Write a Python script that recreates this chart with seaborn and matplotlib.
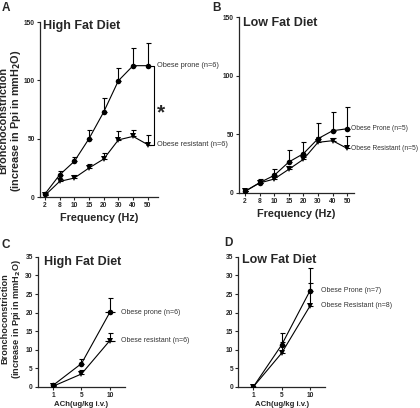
import numpy as np
import matplotlib
matplotlib.use("Agg")
import matplotlib.pyplot as plt
import seaborn as sns

sns.set_style("ticks")
plt.rcParams['font.family'] = ['Liberation Sans', 'DejaVu Sans']
plt.rcParams['axes.linewidth'] = 0.9
plt.rcParams['xtick.major.width'] = 0.8
plt.rcParams['ytick.major.width'] = 0.8
plt.rcParams['xtick.major.size'] = 2.2
plt.rcParams['ytick.major.size'] = 2.2

# stimulation frequency (Hz), vagal stimulation panels
freqs = [2, 8, 10, 15, 20, 30, 40, 50]
# ACh dose (ug/kg i.v.)
doses = [1, 5, 10]

# High fat diet, frequency response
hf_prone = [2.6, 19, 30.6, 50, 72.9, 99.7, 112.6, 112.6]
hf_prone_sem = [1, 3.6, 4, 7.7, 12, 11.3, 15.1, 19.1]
hf_resist = [1.4, 13.4, 16.3, 24.9, 32.6, 49, 52, 44.9]
hf_resist_sem = [0.5, 2.5, 2.3, 3.7, 5.1, 7.9, 5.7, 8]

# Low fat diet, frequency response
lf_prone = [1.4, 8.8, 15, 26.4, 33.5, 46.3, 53.1, 54.8]
lf_prone_sem = [0.5, 3.1, 5.7, 10.2, 10.3, 13.7, 15.9, 18.8]
lf_resist = [1.4, 8.5, 11.9, 20.2, 28.7, 43.2, 44.6, 38]
lf_resist_sem = [0.5, 1.5, 2, 2.2, 2.3, 4.8, 2, 10.6]

# ACh dose response
hf_ach_prone = [0.45, 6.3, 20.1]
hf_ach_prone_sem = [0.1, 1.3, 3.7]
hf_ach_resist = [0.2, 3.5, 12.5]
hf_ach_resist_sem = [0.1, 1.1, 2.1]
lf_ach_prone = [0, 11.3, 25.9]
lf_ach_prone_sem = [0, 3.3, 6.2]
lf_ach_resist = [0, 9.1, 21.8]
lf_ach_resist_sem = [0, 2.9, 6.1]

ylab = "Bronchoconstriction\n(increase in Ppi in mmH$_\\mathbf{2}$O)"
txtcol = "#333333"


def draw(ax, xlabels, prone, prone_sem, resist, resist_sem):
    pos = np.arange(len(xlabels))
    for vals, sem, mk in [(prone, prone_sem, 'o'), (resist, resist_sem, 'v')]:
        vals = np.array(vals)
        ax.errorbar(pos, vals, yerr=[np.zeros(len(vals)), np.array(sem)],
                    fmt='none', ecolor='black', elinewidth=0.8,
                    capsize=1.8, capthick=0.8, zorder=2)
        sns.lineplot(x=pos, y=vals, marker=mk, color='black', lw=0.8,
                     markersize=4 if mk == 'o' else 4.5, markeredgewidth=0,
                     errorbar=None, sort=False, ax=ax, zorder=3)
    ax.set_xticks(pos)
    ax.set_xticklabels([str(v) for v in xlabels])
    for lab in ax.get_xticklabels() + ax.get_yticklabels():
        lab.set_fontweight('bold')
    ax.set_ylabel("")
    sns.despine(ax=ax)


fig = plt.figure(figsize=(4.2, 4.08), dpi=100)

# ---- A
axA = fig.add_axes([0.095, 0.517, 0.281, 0.429])
draw(axA, freqs, hf_prone, hf_prone_sem, hf_resist, hf_resist_sem)
axA.set_xlim(-0.34, 7.69)
axA.set_ylim(0, 150)
axA.set_yticks([0, 50, 100, 150])
axA.tick_params(labelsize=4.8, pad=1.5)
axA.set_xlabel("Frequency (Hz)", fontsize=7.8, fontweight='bold', labelpad=3)
fig.text(11 / 420, 0.705, ylab, rotation=90, fontsize=7.8, fontweight='bold',
         ha='center', va='center', multialignment='center', linespacing=1.05)
axA.text(0.025, 0.975, "High Fat Diet", transform=axA.transAxes,
         fontsize=9, fontweight='bold', va='center', ha='left')
axA.plot([7.1, 7.41, 7.41, 7.1], [hf_prone[-1], hf_prone[-1], hf_resist[-1], hf_resist[-1]],
         color='black', lw=0.8, clip_on=False)
axA.text(7.6, 72, "*", fontsize=15, fontweight='bold', ha='left', va='center')
axA.text(7.62, hf_prone[-1], "Obese prone (n=6)", fontsize=5.3, color=txtcol, va='center')
axA.text(7.62, hf_resist[-1], "Obese resistant (n=6)", fontsize=5.3, color=txtcol, va='center')

# ---- B
axB = fig.add_axes([0.569, 0.527, 0.274, 0.431])
draw(axB, freqs, lf_prone, lf_prone_sem, lf_resist, lf_resist_sem)
axB.set_xlim(-0.41, 7.47)
axB.set_ylim(0, 150)
axB.set_yticks([0, 50, 100, 150])
axB.tick_params(labelsize=4.8, pad=1.5)
axB.set_xlabel("Frequency (Hz)", fontsize=7.8, fontweight='bold', labelpad=3)
axB.text(0.035, 0.966, "Low Fat Diet", transform=axB.transAxes,
         fontsize=9, fontweight='bold', va='center', ha='left')
axB.text(7.28, lf_prone[-1], "Obese Prone (n=5)", fontsize=4.8, color=txtcol, va='center')
axB.text(7.28, lf_resist[-1], "Obese Resistant (n=5)", fontsize=4.8, color=txtcol, va='center')

# ---- C
axC = fig.add_axes([0.0905, 0.0515, 0.207, 0.319])
draw(axC, doses, hf_ach_prone, hf_ach_prone_sem, hf_ach_resist, hf_ach_resist_sem)
axC.scatter([2, 2], [hf_ach_prone[-1], hf_ach_resist[-1]], marker='_', s=55,
            color='black', linewidths=0.8, zorder=4)
axC.set_xlim(-0.53, 2.53)
axC.set_ylim(0, 35)
axC.set_yticks(range(0, 36, 5))
axC.tick_params(labelsize=4.8, pad=1.5)
axC.set_xlabel("ACh(ug/kg i.v.)", fontsize=5.6, fontweight='bold', labelpad=1.5)
fig.text(12 / 420, 0.218, ylab, rotation=90, fontsize=6.6, fontweight='bold',
         ha='center', va='center', multialignment='center', linespacing=1.05)
axC.text(0.07, 0.96, "High Fat Diet", transform=axC.transAxes,
         fontsize=9, fontweight='bold', va='center', ha='left')
axC.text(2.39, hf_ach_prone[-1], "Obese prone (n=6)", fontsize=5, color=txtcol, va='center')
axC.text(2.39, hf_ach_resist[-1], "Obese resistant (n=6)", fontsize=5, color=txtcol, va='center')

# ---- D
axD = fig.add_axes([0.567, 0.0515, 0.207, 0.319])
draw(axD, doses, lf_ach_prone, lf_ach_prone_sem, lf_ach_resist, lf_ach_resist_sem)
axD.set_xlim(-0.53, 2.53)
axD.set_ylim(0, 35)
axD.set_yticks(range(0, 36, 5))
axD.tick_params(labelsize=4.8, pad=1.5)
axD.set_xlabel("ACh(ug/kg i.v.)", fontsize=5.6, fontweight='bold', labelpad=1.5)
axD.text(0.046, 0.977, "Low Fat Diet", transform=axD.transAxes,
         fontsize=9, fontweight='bold', va='center', ha='left')
axD.text(2.39, lf_ach_prone[-1], "Obese Prone (n=7)", fontsize=5, color=txtcol, va='center')
axD.text(2.39, lf_ach_resist[-1], "Obese Resistant (n=8)", fontsize=5, color=txtcol, va='center')

# panel letters
for lbl, x, y in [("A", 0.004, 0.995), ("B", 0.505, 0.995), ("C", 0.004, 0.415), ("D", 0.535, 0.42)]:
    fig.text(x, y, lbl, fontsize=8.5, fontweight='bold', va='top', ha='left')

plt.savefig("out.png", dpi=100)
